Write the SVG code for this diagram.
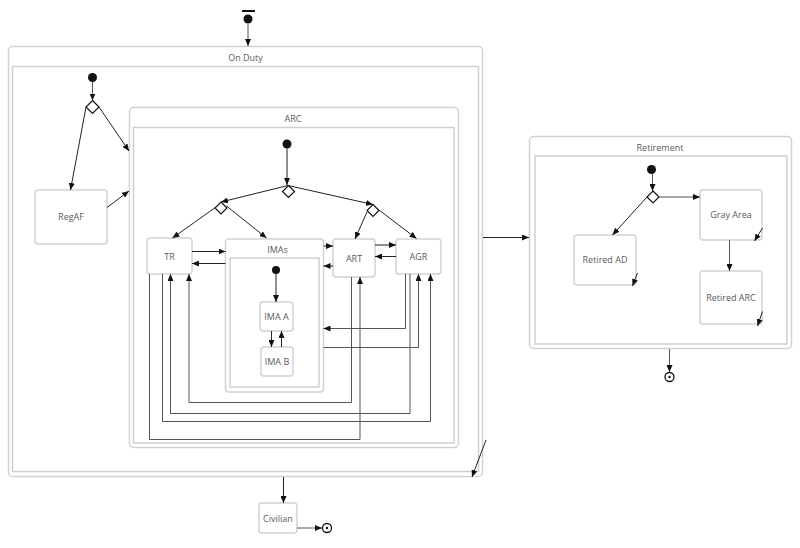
<svg xmlns="http://www.w3.org/2000/svg" width="800" height="548" viewBox="0 0 800 548">
<defs>
<marker id="a" markerWidth="8" markerHeight="6" refX="7" refY="3" orient="auto" markerUnits="userSpaceOnUse"><path d="M0,0 L7,3 L0,6 z" fill="#111"/></marker>
<style>
.box{fill:#fff;stroke:#d2d2d2;stroke-width:1.5}
.in{fill:#fff;stroke:#cfcfcf;stroke-width:1.5}
.t{font-family:"Open Sans","Noto Sans",sans-serif;font-size:9px;fill:#5a5a5a;text-anchor:middle}
.e{fill:none;stroke:#222;stroke-width:1;marker-end:url(#a)}
.g{fill:none;stroke:#555;stroke-width:1;marker-end:url(#a)}
.ini{fill:#111}
.dia{fill:#fff;stroke:#111;stroke-width:1.2}
.fin{fill:#fff;stroke:#111;stroke-width:1.3}
</style>
</defs>
<rect width="800" height="548" fill="#fff"/>
<g id="start">
<line x1="242" y1="11" x2="255" y2="11" stroke="#111" stroke-width="2"/>
<circle cx="248" cy="19" r="4.5" class="ini"/>
</g>
<g id="onduty">
<rect class="box" x="8.5" y="46.5" width="474" height="430" rx="4"/>
<rect class="in" x="12.5" y="66.5" width="466" height="405"/>
<text class="t" x="245.5" y="60.5">On Duty</text>
<circle cx="92.5" cy="77.5" r="4.5" class="ini"/>
<path class="dia" d="M92.5,100.5 L99,107 L92.5,113.5 L86,107 Z"/>
</g>
<g id="regaf">
<rect class="box" x="35" y="190" width="72" height="54" rx="3"/>
<text class="t" x="71" y="220">RegAF</text>
</g>
<g id="arc">
<rect class="box" x="129.5" y="107.5" width="329" height="340" rx="4"/>
<rect class="in" x="133.5" y="127.5" width="320.5" height="315.5"/>
<text class="t" x="293" y="121.5">ARC</text>
<circle cx="287" cy="144" r="4.5" class="ini"/>
<path class="dia" d="M288.5,185.5 L294.5,191.5 L288.5,197.5 L282.5,191.5 Z"/>
<path class="dia" d="M221,202 L227,208 L221,214 L215,208 Z"/>
<path class="dia" d="M373,204.5 L379,210.5 L373,216.5 L367,210.5 Z"/>
</g>
<g id="tr">
<rect class="box" x="147" y="238" width="45" height="36" rx="3"/>
<text class="t" x="169.5" y="259.5">TR</text>
</g>
<g id="imas">
<rect class="box" x="225.5" y="239" width="98" height="153" rx="3"/>
<rect class="in" x="230" y="258" width="89" height="129"/>
<text class="t" x="277.5" y="253">IMAs</text>
<circle cx="276" cy="270" r="4" class="ini"/>
</g>
<g id="imaa">
<rect class="box" x="260" y="302" width="33" height="29" rx="3"/>
<text class="t" x="276.5" y="320">IMA A</text>
</g>
<g id="imab">
<rect class="box" x="261" y="347" width="32" height="29" rx="3"/>
<text class="t" x="277" y="365">IMA B</text>
</g>
<g id="art">
<rect class="box" x="333" y="239" width="42" height="38" rx="3"/>
<text class="t" x="354" y="261.5">ART</text>
</g>
<g id="agr">
<rect class="box" x="396" y="239" width="45" height="35" rx="3"/>
<text class="t" x="418.5" y="260">AGR</text>
</g>
<g id="retirement">
<rect class="box" x="529.5" y="136.5" width="262" height="212" rx="4"/>
<rect class="in" x="535" y="156" width="252" height="188"/>
<text class="t" x="660" y="151">Retirement</text>
<circle cx="651.5" cy="169.5" r="4.5" class="ini"/>
<path class="dia" d="M653,191 L659,197 L653,203 L647,197 Z"/>
</g>
<g id="grayarea">
<rect class="box" x="700" y="190" width="62" height="50" rx="3"/>
<text class="t" x="731" y="218">Gray Area</text>
</g>
<g id="retiredad">
<rect class="box" x="574" y="235" width="62" height="50" rx="3"/>
<text class="t" x="605" y="263">Retired AD</text>
</g>
<g id="retiredarc">
<rect class="box" x="700" y="271" width="62" height="53" rx="3"/>
<text class="t" x="731" y="300.5">Retired ARC</text>
</g>
<g id="civilian">
<rect class="box" x="259" y="503" width="38" height="30" rx="3"/>
<text class="t" x="278" y="521.5">Civilian</text>
</g>
<g id="final1">
<circle cx="327" cy="528" r="4.5" class="fin"/>
<circle cx="327" cy="528" r="1.2" fill="#111"/>
</g>
<g id="final2">
<circle cx="669.5" cy="377" r="4.5" class="fin"/>
<circle cx="669.5" cy="377" r="1.2" fill="#111"/>
</g>
<g id="connectors">
<path class="g" d="M248,24 V46"/>
<path class="g" d="M92.5,82 V100.5"/>
<path class="e" d="M86,107 L70.5,190"/>
<path class="e" d="M99,107 L129,151"/>
<path class="e" d="M107,207.5 L129,191"/>
<path class="e" d="M287,148.5 V185"/>
<path class="e" d="M288,185.5 L221,202"/>
<path class="e" d="M288,185.5 L373,204.5"/>
<path class="e" d="M216,207 L172.5,238"/>
<path class="e" d="M226.5,206 L266.5,238"/>
<path class="e" d="M367,212 L355,239"/>
<path class="e" d="M379,210 L416.5,238.5"/>
<path class="e" d="M192,251.5 H225.5"/>
<path class="e" d="M225.5,263.5 H192"/>
<path class="e" d="M323.5,246 H333"/>
<path class="e" d="M333,266 H323.5"/>
<path class="e" d="M375,245 H396"/>
<path class="e" d="M396,256.5 H375"/>
<path class="e" d="M276,274 V302"/>
<path class="e" d="M271.5,331 V347"/>
<path class="e" d="M281.5,347 V331"/>
<path class="g" d="M405.5,274 V328.5 H323.5"/>
<path class="g" d="M323.5,347.5 H418.5 V274"/>
<path class="g" d="M351.5,277 V402.5 H189 V274"/>
<path class="g" d="M410,274 V413.5 H170.5 V274"/>
<path class="g" d="M162.5,274 V421.5 H430.5 V274"/>
<path class="g" d="M149.5,274 V439.5 H360 V277"/>
<path class="e" d="M483,237.5 H529"/>
<path class="e" d="M486,440 L472,477"/>
<path class="e" d="M283.5,477 V503"/>
<path class="g" d="M297,528 H322"/>
<path class="g" d="M652.5,174 V191"/>
<path class="g" d="M659,197 H700"/>
<path class="e" d="M647,197 L612.5,235"/>
<path class="g" d="M729.5,240 V271"/>
<path class="e" d="M762.5,228 L754.5,241"/>
<path class="e" d="M637.5,273 L632.5,286"/>
<path class="e" d="M762.5,311.5 L757.5,326"/>
<path class="g" d="M669.5,349 V372"/>
</g>
</svg>
